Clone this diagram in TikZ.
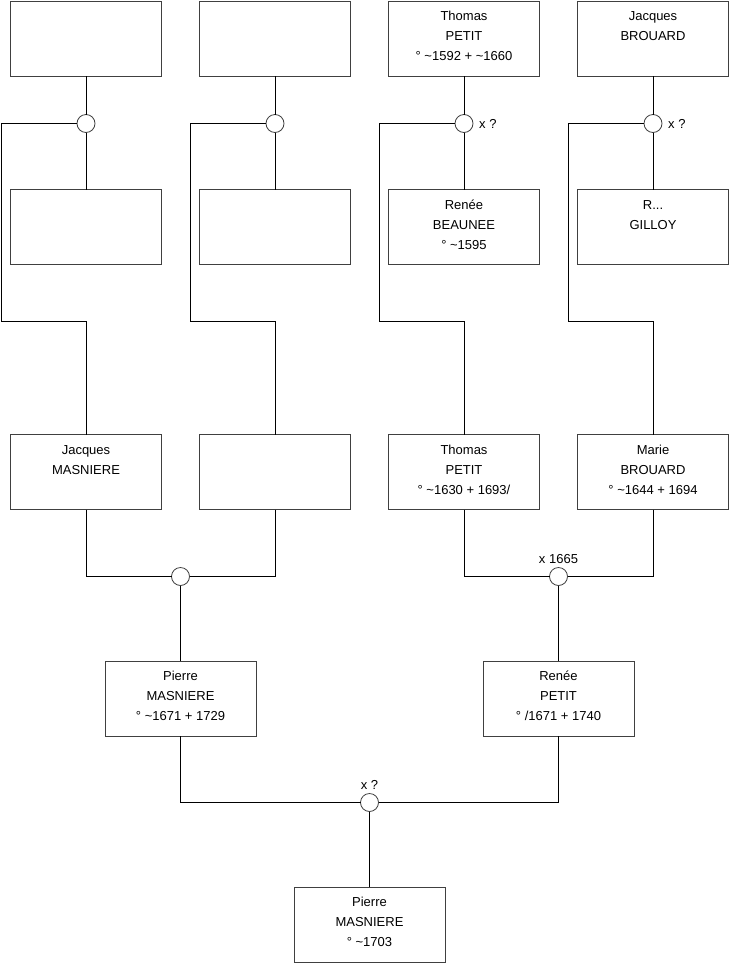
\documentclass[tikz,border=0pt]{standalone}
\usepackage{fontspec}
\setmainfont{Liberation Sans}
\usepackage{tikz}
\usetikzlibrary{positioning, calc}

\newcommand{\who}[1]{\parbox[c][75pt][t]{151pt}{\centering\rule{0pt}{19.5pt}#1}}

\begin{document}
\begin{tikzpicture}[
    x=1pt, y=-1pt,
    font=\fontsize{13}{20}\selectfont,
    node distance=38pt,
    person/.style={rectangle, draw=black!75, line width=0.8pt, outer sep=0pt, minimum width=151pt, minimum height=75pt, inner sep=0pt},
    union/.style={circle, draw=black!75, fill=white, line width=0.8pt, outer sep=0pt, minimum size=18pt, inner sep=0pt},
    link/.style={draw=black, line width=0.8pt},
    tag/.style={inner sep=0pt, font=\fontsize{13}{16}\selectfont}
]
\useasboundingbox (0,0) rectangle (740,975);

\node[person] (top1) at (86,38.5) {};
\node[person, right=of top1] (top2) {};
\node[person, right=of top2] (top3) {\who{Thomas\\PETIT\\° \textasciitilde1592 + \textasciitilde1660}};
\node[person, right=of top3] (top4) {\who{Jacques\\BROUARD}};

\node[union, below=38.5pt of top1] (u1) {};
\node[union, below=38.5pt of top2] (u2) {};
\node[union, below=38.5pt of top3, label={[tag, xshift=6pt]right:x ?}] (u3) {};
\node[union, below=38.5pt of top4, label={[tag, xshift=6pt]right:x ?}] (u4) {};

\node[person, below=113.5pt of top1] (mid1) {};
\node[person, below=113.5pt of top2] (mid2) {};
\node[person, below=113.5pt of top3] (mid3) {\who{Renée\\BEAUNEE\\° \textasciitilde1595}};
\node[person, below=113.5pt of top4] (mid4) {\who{R...\\GILLOY}};

\node[person, below=170pt of mid1] (par1) {\who{Jacques\\MASNIERE}};
\node[person, below=170pt of mid2] (par2) {};
\node[person, below=170pt of mid3] (par3) {\who{Thomas\\PETIT\\° \textasciitilde1630 + 1693/}};
\node[person, below=170pt of mid4] (par4) {\who{Marie\\BROUARD\\° \textasciitilde1644 + 1694}};

\coordinate (mA) at ($(par1.south)!0.5!(par2.south)$);
\coordinate (mB) at ($(par3.south)!0.5!(par4.south)$);
\node[union, below=58pt of mA] (u5) {};
\node[union, below=58pt of mB, label={[tag, yshift=4pt]above:x 1665}] (u6) {};

\node[person, below=75.5pt of u5] (pierreF) {\who{Pierre\\MASNIERE\\° \textasciitilde1671 + 1729}};
\node[person, below=75.5pt of u6] (renee) {\who{Renée\\PETIT\\° /1671 + 1740}};

\coordinate (mC) at ($(pierreF.south)!0.5!(renee.south)$);
\node[union, below=57.5pt of mC, label={[tag, yshift=4pt]above:x ?}] (u7) {};
\node[person, below=75.5pt of u7] (pierre) {\who{Pierre\\MASNIERE\\° \textasciitilde1703}};

\foreach \i in {1,...,4} {
  \draw[link] (top\i) -- (u\i);
  \draw[link] (u\i) -- (mid\i);
  \coordinate (k\i) at ($(mid\i.south west)+(-9pt,-56.5pt)$);
  \draw[link] (u\i.west) -| (k\i) -| (par\i.north);
}

\draw[link] (par1.south) |- (u5.west);
\draw[link] (par2.south) |- (u5.east);
\draw[link] (par3.south) |- (u6.west);
\draw[link] (par4.south) |- (u6.east);
\draw[link] (u5) -- (pierreF);
\draw[link] (u6) -- (renee);
\draw[link] (pierreF.south) |- (u7.west);
\draw[link] (renee.south) |- (u7.east);
\draw[link] (u7) -- (pierre);

\end{tikzpicture}
\end{document}
